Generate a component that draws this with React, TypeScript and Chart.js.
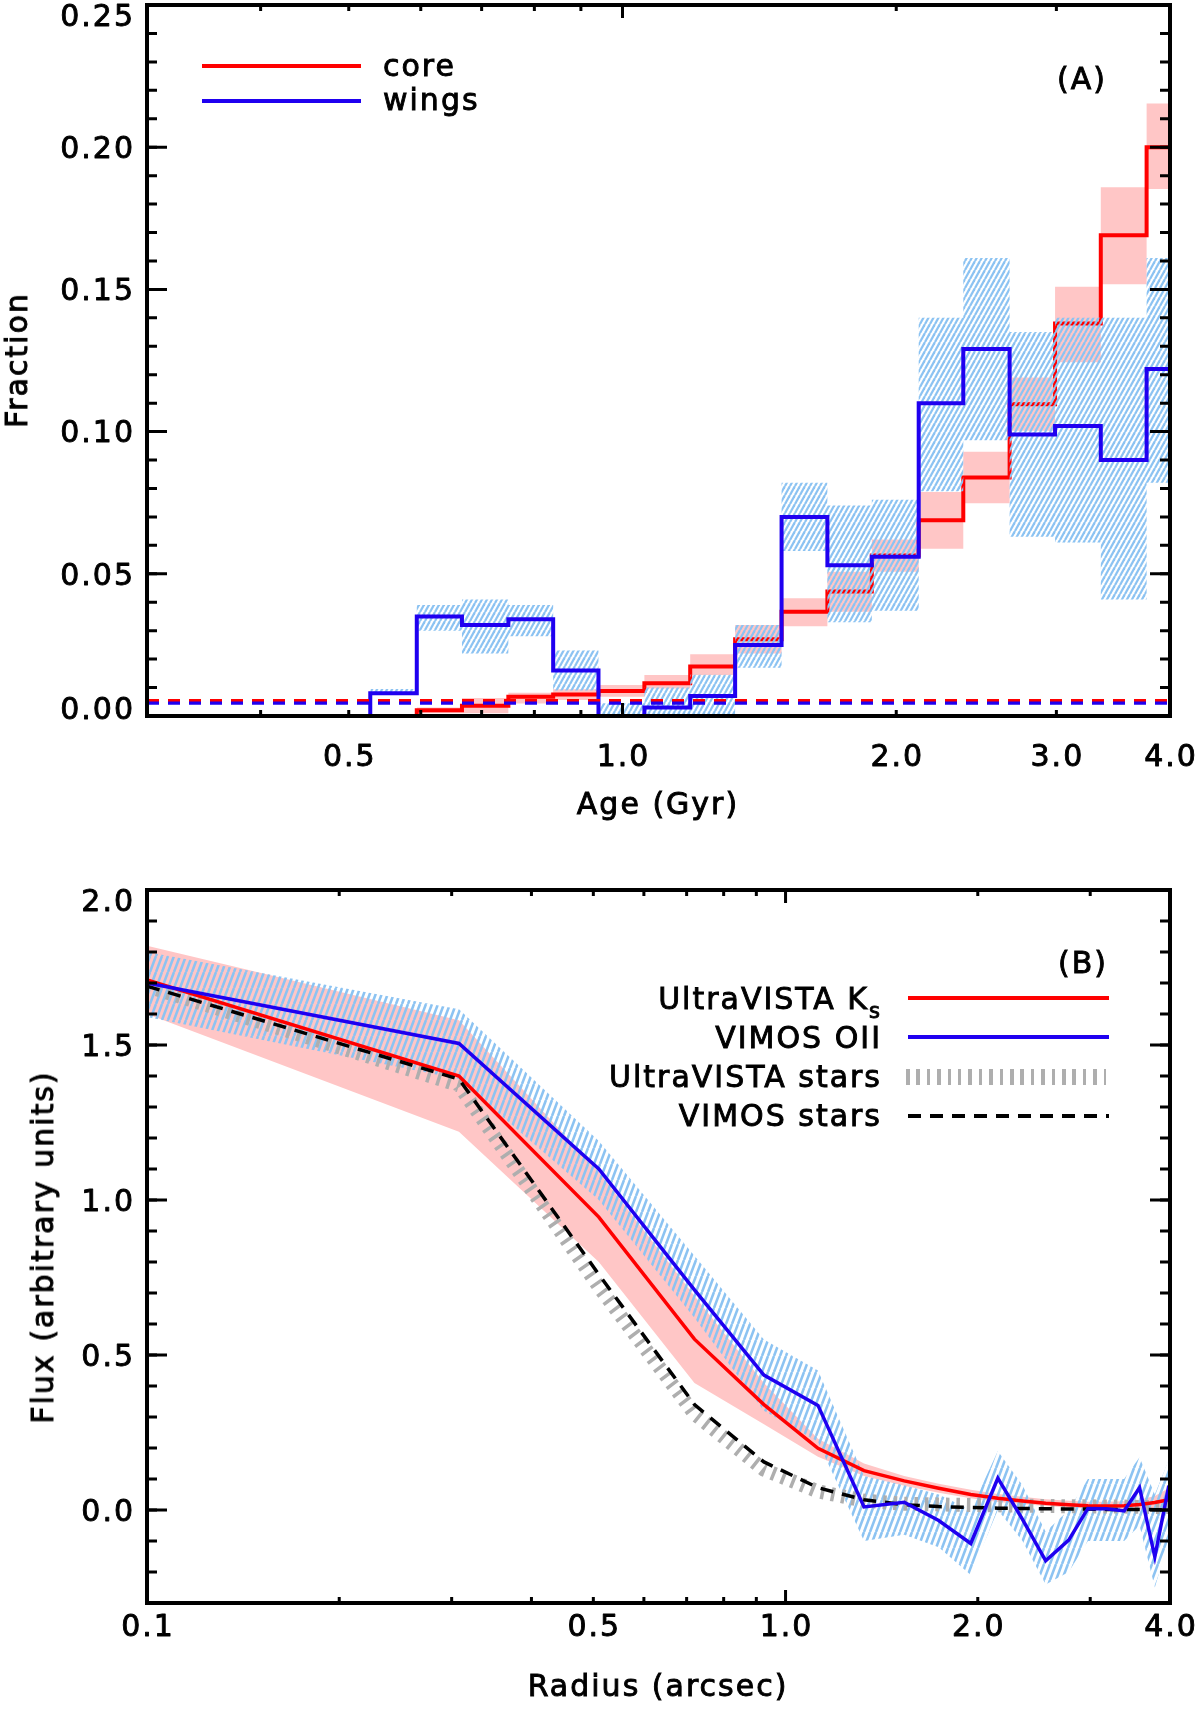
import { useEffect, useRef } from 'react'
import { Chart, registerables } from 'chart.js'
Chart.register(...registerables)

// ---------- panel (A): age distribution of core / wings ----------
const ageEdges = [0.528, 0.594, 0.666, 0.749, 0.839, 0.941, 1.057, 1.187, 1.33, 1.496, 1.68, 1.88, 2.117, 2.37, 2.665, 2.99, 3.357, 3.77, 4.23]

const wingsFrac = [0.008, 0.035, 0.032, 0.034, 0.016, 0.0, 0.003, 0.007, 0.025, 0.070, 0.053, 0.056, 0.110, 0.129, 0.099, 0.102, 0.090, 0.122]
const wingsLo   = [0.0076, 0.030, 0.022, 0.028, 0.009, 0.0, 0.0, 0.0, 0.017, 0.058, 0.033, 0.037, 0.079, 0.097, 0.063, 0.061, 0.041, 0.082]
const wingsHi   = [0.0095, 0.039, 0.041, 0.039, 0.023, 0.0045, 0.010, 0.0145, 0.032, 0.082, 0.074, 0.076, 0.140, 0.161, 0.135, 0.140, 0.140, 0.161]

// core starts at the second bin edge
const coreFirstBin = 1
const coreFrac = [0.002, 0.0036, 0.0068, 0.0076, 0.0088, 0.0115, 0.0174, 0.027, 0.0367, 0.0438, 0.0564, 0.0688, 0.0839, 0.1096, 0.138, 0.169, 0.200]
const coreLo   = [0.001, 0.001, 0.0044, 0.0056, 0.0068, 0.0097, 0.0144, 0.022, 0.0316, 0.0367, 0.0507, 0.0588, 0.0748, 0.1003, 0.1244, 0.1518, 0.1853]
const coreHi   = [0.003, 0.0063, 0.0082, 0.0094, 0.0109, 0.0144, 0.0217, 0.032, 0.0414, 0.0507, 0.0621, 0.0788, 0.0929, 0.119, 0.1509, 0.1859, 0.2154]

const coreLevel = 0.0054
const wingsLevel = 0.0045

const ageLabels = [0.5, 1.0, 2.0, 3.0, 4.0]
const ageMajorTicks = [1.0]
const ageMinorTicks = [0.4, 0.5, 0.6, 0.7, 0.8, 0.9, 2.0, 3.0, 4.0]
const fracLabels = [0.0, 0.05, 0.10, 0.15, 0.20, 0.25]

// ---------- panel (B): radial flux profiles ----------
const radius = [0.1, 0.308, 0.51, 0.72, 0.925, 1.124, 1.327, 1.534, 1.737, 1.95, 2.15, 2.35, 2.555, 2.776, 2.975, 3.18, 3.39, 3.584, 3.787, 3.98, 4.18]

const ksFlux = [1.71, 1.40, 0.945, 0.551, 0.34, 0.199, 0.127, 0.094, 0.070, 0.050, 0.038, 0.029, 0.022, 0.017, 0.014, 0.013, 0.014, 0.018, 0.024, 0.033, 0.040]
const ksLo   = [1.60, 1.22, 0.80, 0.41, 0.277, 0.172, 0.11, 0.078, 0.056, 0.038, 0.026, 0.019, 0.013, 0.008, 0.005, 0.003, 0.002, 0.002, 0.0, -0.005, -0.01]
const ksHi   = [1.82, 1.58, 1.09, 0.69, 0.41, 0.23, 0.15, 0.11, 0.085, 0.065, 0.052, 0.043, 0.035, 0.030, 0.027, 0.027, 0.028, 0.033, 0.045, 0.070, 0.100]

const oiiFlux = [1.70, 1.505, 1.10, 0.71, 0.435, 0.3375, 0.01, 0.025, -0.034, -0.108, 0.103, -0.03, -0.164, -0.097, 0.005, 0.004, -0.003, 0.072, -0.151, 0.075, 0.11]
const oiiLo   = [1.59, 1.39, 1.00, 0.62, 0.32, 0.22, -0.10, -0.08, -0.12, -0.21, 0.0, -0.10, -0.24, -0.20, -0.10, -0.10, -0.10, -0.05, -0.25, -0.10, -0.05]
const oiiHi   = [1.80, 1.615, 1.19, 0.82, 0.55, 0.45, 0.11, 0.08, 0.05, 0.0, 0.19, 0.08, -0.07, 0.0, 0.10, 0.10, 0.10, 0.17, 0.05, 0.16, 0.20]

const uvStars = [1.69, 1.37, 0.72, 0.31, 0.13, 0.06, 0.03, 0.02, 0.018, 0.016, 0.015, 0.014, 0.013, 0.012, 0.012, 0.011, 0.011, 0.010, 0.010, 0.010, 0.010]
const vimosStars = [1.69, 1.39, 0.76, 0.34, 0.155, 0.072, 0.033, 0.017, 0.011, 0.008, 0.006, 0.005, 0.004, 0.003, 0.003, 0.002, 0.002, 0.002, 0.001, 0.001, 0.001]

const radiusLabels = [0.1, 0.5, 1.0, 2.0, 4.0]
const radiusMajorTicks = [1.0]
const radiusMinorTicks = [0.2, 0.3, 0.4, 0.5, 0.6, 0.7, 0.8, 0.9, 2.0, 3.0, 4.0]
const fluxLabels = [0.0, 0.5, 1.0, 1.5, 2.0]

const RED = '#ff0000'
const BLUE = '#1f00f0'
const PINK = '#ffc6c6'
const HATCH = '#8cc3f2'
const GREY = '#aeaeae'
const FONT = '"DejaVu Sans", sans-serif'

const stepPoints = (edges: number[], vals: number[], first: number, fromZero = false) => {
    const pts = vals.map((v, i) => ({ x: edges[first + i], y: v }))
    pts.push({ x: edges[first + vals.length], y: vals[vals.length - 1] })
    if (fromZero) pts.unshift({ x: edges[first], y: 0 })
    return pts
}
const zip = (xs: number[], ys: number[]) => ys.map((y, i) => ({ x: xs[i], y }))

const steps = (min: number, max: number, step: number) => {
    const out: number[] = []
    for (let i = Math.round(min / step); i <= Math.round(max / step); i++) out.push(i * step)
    return out
}

function makeHatch(w: number, h: number, lw: number) {
    const c = document.createElement('canvas')
    c.width = w; c.height = h
    const g = c.getContext('2d')!
    g.strokeStyle = HATCH
    g.lineWidth = lw
    for (const dx of [-w, 0, w]) {
        g.beginPath(); g.moveTo(dx, h); g.lineTo(dx + w, 0); g.stroke()
    }
    return g.createPattern(c, 'repeat')!
}

interface FrameCfg {
    xMajor: number[]; xMinor: number[]; yMajor: number[]; yMinor: number[]
    xLabels: number[]; yLabels: number[]; xDigits: number; yDigits: number; xLabelDy: number
}

// IDL-style box: inward ticks on all four sides, labels on left and bottom
function framePlugin(cfg: FrameCfg) {
    return {
        id: 'idlFrame',
        afterDraw(chart: Chart) {
            const { ctx, chartArea: a } = chart
            const xs = chart.scales.x, ys = chart.scales.y
            ctx.save()
            ctx.strokeStyle = '#000'
            ctx.lineWidth = 3
            ctx.lineCap = 'butt'
            const xt = (v: number, len: number) => {
                const p = xs.getPixelForValue(v)
                ctx.beginPath()
                ctx.moveTo(p, a.bottom); ctx.lineTo(p, a.bottom - len)
                ctx.moveTo(p, a.top); ctx.lineTo(p, a.top + len)
                ctx.stroke()
            }
            const yt = (v: number, len: number) => {
                const p = ys.getPixelForValue(v)
                ctx.beginPath()
                ctx.moveTo(a.left, p); ctx.lineTo(a.left + len, p)
                ctx.moveTo(a.right, p); ctx.lineTo(a.right - len, p)
                ctx.stroke()
            }
            cfg.xMinor.forEach(v => xt(v, 6))
            cfg.xMajor.forEach(v => xt(v, 13))
            cfg.yMinor.forEach(v => yt(v, 10))
            cfg.yMajor.forEach(v => yt(v, 20))
            ctx.lineWidth = 4
            ctx.strokeRect(a.left, a.top, a.right - a.left, a.bottom - a.top)

            // slightly heavier than regular weight, like the original figure font
            ctx.fillStyle = '#000'
            ctx.lineWidth = 0.9
            ctx.lineJoin = 'round'
            ctx.font = `30px ${FONT}`
            ;(ctx as any).letterSpacing = '2px'
            ctx.textBaseline = 'middle'
            const label = (s: string, x: number, y: number) => { ctx.fillText(s, x, y); ctx.strokeText(s, x, y) }
            ctx.textAlign = 'center'
            cfg.xLabels.forEach(v => label(v.toFixed(cfg.xDigits), xs.getPixelForValue(v) + 1, a.bottom + cfg.xLabelDy))
            ctx.textAlign = 'right'
            cfg.yLabels.forEach(v => {
                const p = Math.min(Math.max(ys.getPixelForValue(v) + 3, a.top + 13), a.bottom - 5)
                label(v.toFixed(cfg.yDigits), a.left - 12, p)
            })
            ctx.restore()
        },
    }
}

const baseOptions = (padding: any, xr: [number, number], yr: [number, number]) => ({
    responsive: false,
    animation: false as const,
    events: [],
    layout: { padding },
    plugins: { legend: { display: false }, tooltip: { enabled: false } },
    elements: { point: { radius: 0 }, line: { tension: 0, borderJoinStyle: 'miter' as const, borderCapStyle: 'butt' as const } },
    scales: {
        x: { type: 'logarithmic' as const, min: xr[0], max: xr[1], display: false },
        y: { type: 'linear' as const, min: yr[0], max: yr[1], display: false },
    },
})

const textStyle = {
    position: 'absolute' as const, whiteSpace: 'nowrap' as const, fontSize: 30, lineHeight: 1,
    letterSpacing: 2, WebkitTextStroke: '0.9px #000',
}

function Text({ x, y, children, align = 'center' }: any) {
    const tx = align === 'center' ? '-50%' : align === 'right' ? '-100%' : '0'
    return <div style={{ ...textStyle, left: x, top: y, transform: `translate(${tx}, -50%)` }}>{children}</div>
}

function RotText({ x, y, children }: any) {
    return (
        <div style={{ position: 'absolute', left: x, top: y, width: 0, height: 0 }}>
            <div style={{ ...textStyle, left: 0, top: 0, transform: 'translate(-50%, -50%) rotate(-90deg)' }}>{children}</div>
        </div>
    )
}

const hline = (x: number, y: number, w: number, color: string, h = 4) => (
    <div style={{ position: 'absolute', left: x, top: y - h / 2, width: w, height: h, background: color }} />
)

export default function App() {
    const refA = useRef<HTMLCanvasElement>(null)
    const refB = useRef<HTMLCanvasElement>(null)

    useEffect(() => {
        if (!refA.current || !refB.current) return
        const hatchA = makeHatch(5, 9, 2.3)
        const hatchB = makeHatch(6, 16, 2.6)

        const chartA = new Chart(refA.current, {
            type: 'line',
            data: {
                datasets: [
                    { data: stepPoints(ageEdges, wingsLo, 0), stepped: true, borderWidth: 0, order: 4, clip: 0 },
                    { data: stepPoints(ageEdges, wingsHi, 0), stepped: true, borderWidth: 0, fill: '-1', backgroundColor: hatchA, order: 3, clip: 0 },
                    { data: stepPoints(ageEdges, coreLo, coreFirstBin), stepped: true, borderWidth: 0, order: 7, clip: 0 },
                    { data: stepPoints(ageEdges, coreHi, coreFirstBin), stepped: true, borderWidth: 0, fill: '-1', backgroundColor: PINK, order: 6, clip: 0 },
                    { data: stepPoints(ageEdges, coreFrac, coreFirstBin, true), stepped: true, borderColor: RED, borderWidth: 4, order: 5, clip: 0 },
                    { data: stepPoints(ageEdges, wingsFrac, 0, true), stepped: true, borderColor: BLUE, borderWidth: 4, order: 2, clip: 0 },
                    { data: [{ x: 0.3, y: coreLevel }, { x: 4, y: coreLevel }], borderColor: RED, borderWidth: 3.2, borderDash: [12, 9], order: 1, clip: 0 },
                    { data: [{ x: 0.3, y: wingsLevel }, { x: 4, y: wingsLevel }], borderColor: BLUE, borderWidth: 3.2, borderDash: [12, 9], order: 0, clip: 0 },
                ],
            },
            options: baseOptions({ left: 147, right: 30, top: 5, bottom: 74 }, [0.3, 4], [0, 0.25]) as any,
            plugins: [framePlugin({
                xMajor: ageMajorTicks, xMinor: ageMinorTicks,
                yMajor: fracLabels, yMinor: steps(0, 0.25, 0.01),
                xLabels: ageLabels, yLabels: fracLabels, xDigits: 1, yDigits: 2, xLabelDy: 42,
            })],
        })

        const chartB = new Chart(refB.current, {
            type: 'line',
            data: {
                datasets: [
                    { data: zip(radius, ksLo), borderWidth: 0, order: 7, clip: 0 },
                    { data: zip(radius, ksHi), borderWidth: 0, fill: '-1', backgroundColor: PINK, order: 6, clip: 0 },
                    { data: zip(radius, oiiLo), borderWidth: 0, order: 5, clip: 0 },
                    { data: zip(radius, oiiHi), borderWidth: 0, fill: '-1', backgroundColor: hatchB, order: 4, clip: 0 },
                    { data: zip(radius, uvStars), borderColor: GREY, borderWidth: 14, borderDash: [3.5, 7], order: 3, clip: 0 },
                    { data: zip(radius, ksFlux), borderColor: RED, borderWidth: 3.5, order: 2, clip: 0 },
                    { data: zip(radius, vimosStars), borderColor: '#000', borderWidth: 3.5, borderDash: [13, 9], order: 1, clip: 0 },
                    { data: zip(radius, oiiFlux), borderColor: BLUE, borderWidth: 3.5, order: 0, clip: 0 },
                ],
            },
            options: baseOptions({ left: 147, right: 30, top: 30, bottom: 108 }, [0.1, 4], [-0.3, 2.0]) as any,
            plugins: [framePlugin({
                xMajor: radiusMajorTicks, xMinor: radiusMinorTicks,
                yMajor: fluxLabels, yMinor: steps(-0.3, 2.0, 0.1),
                xLabels: radiusLabels, yLabels: fluxLabels, xDigits: 1, yDigits: 1, xLabelDy: 25,
            })],
        })

        return () => { chartA.destroy(); chartB.destroy() }
    }, [])

    return (
        <div style={{ position: 'absolute', left: 0, top: 0, width: 1200, height: 1711, background: '#fff', fontFamily: FONT, color: '#000', overflow: 'hidden' }}>
            <canvas ref={refA} width={1200} height={790} style={{ position: 'absolute', left: 0, top: 0, width: 1200, height: 790 }} />
            <canvas ref={refB} width={1200} height={851} style={{ position: 'absolute', left: 0, top: 860, width: 1200, height: 851 }} />

            {/* panel A labels */}
            <RotText x={17} y={360}>Fraction</RotText>
            <Text x={658} y={804}>Age (Gyr)</Text>
            <Text x={1107} y={79} align="right">(A)</Text>
            {hline(202, 66, 159, RED)}
            {hline(202, 101, 159, BLUE)}
            <Text x={383} y={66} align="left">core</Text>
            <Text x={383} y={100} align="left">wings</Text>

            {/* panel B labels */}
            <RotText x={43} y={1247}>Flux (arbitrary units)</RotText>
            <Text x={658} y={1686}>Radius (arcsec)</Text>
            <Text x={1108} y={963} align="right">(B)</Text>
            <Text x={882} y={999} align="right">UltraVISTA K<span style={{ fontSize: 21, position: 'relative', top: 9 }}>s</span></Text>
            <Text x={882} y={1038} align="right">VIMOS OII</Text>
            <Text x={882} y={1077} align="right">UltraVISTA stars</Text>
            <Text x={882} y={1116} align="right">VIMOS stars</Text>
            {hline(908, 998, 201, RED, 3.5)}
            {hline(908, 1037, 201, BLUE, 3.5)}
            <div style={{ position: 'absolute', left: 906, top: 1069, width: 200, height: 16, background: `repeating-linear-gradient(90deg, ${GREY} 0 3.5px, transparent 3.5px 10.4px)` }} />
            <div style={{ position: 'absolute', left: 908, top: 1114, width: 201, height: 3.5, background: 'repeating-linear-gradient(90deg, #000 0 13px, transparent 13px 22px)' }} />
        </div>
    )
}
